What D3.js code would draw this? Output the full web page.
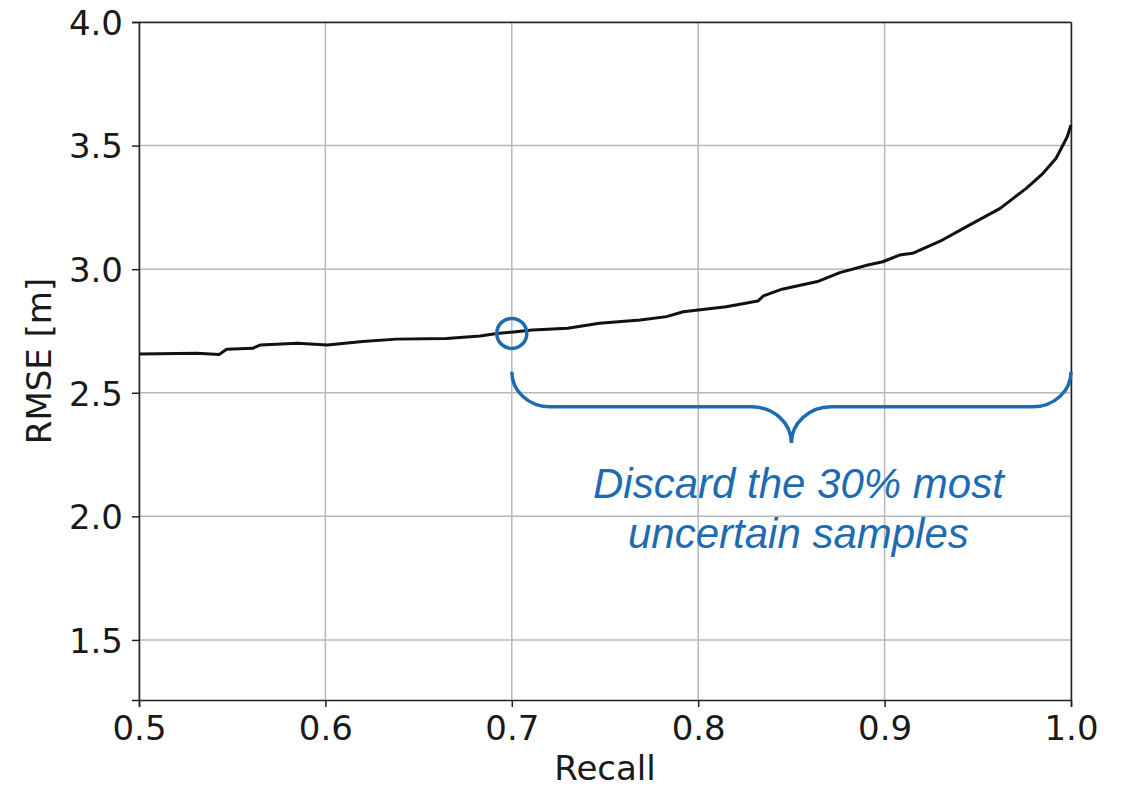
<!DOCTYPE html>
<html>
<head>
<meta charset="utf-8">
<script src="https://cdn.jsdelivr.net/npm/d3@7"></script>
<style>
  body { margin: 0; background: #fff; }
  .axis text { font-family: "DejaVu Sans", sans-serif; font-size: 34px; fill: #1a1a1a; }
  .axis path, .axis line { stroke: #222; stroke-width: 1.5; }
  .grid line { stroke: #b8b8b8; stroke-width: 1.5; }
  .axis-title { font-family: "DejaVu Sans", sans-serif; font-size: 34px; fill: #1a1a1a; }
  .note { font-family: "Liberation Sans", Arial, sans-serif; font-style: italic; font-size: 42px; fill: #1d6cb3; }
</style>
</head>
<body>
<div id="chart"></div>
<script>
// Recall / RMSE curve
const recall = [0.500, 0.531, 0.543, 0.547, 0.561, 0.565, 0.585, 0.601, 0.620, 0.638,
  0.665, 0.683, 0.692, 0.701, 0.711, 0.730, 0.747, 0.769, 0.783, 0.792, 0.815, 0.832,
  0.835, 0.845, 0.864, 0.876, 0.891, 0.899, 0.908, 0.915, 0.931, 0.944, 0.962, 0.976,
  0.985, 0.992, 0.998, 1.000];
const rmse = [2.657, 2.660, 2.655, 2.676, 2.680, 2.693, 2.700, 2.693, 2.707, 2.717,
  2.720, 2.730, 2.740, 2.746, 2.754, 2.761, 2.781, 2.794, 2.808, 2.828, 2.848, 2.871,
  2.892, 2.919, 2.950, 2.986, 3.017, 3.030, 3.057, 3.064, 3.118, 3.172, 3.246, 3.327,
  3.388, 3.449, 3.536, 3.583];

const xTicks = [0.5, 0.6, 0.7, 0.8, 0.9, 1.0];
const yTicks = [1.5, 2.0, 2.5, 3.0, 3.5, 4.0];

// Annotation: marked point, brace span and label
const markRecall = 0.7;
const markRmse = 2.74;
const braceSpan = [0.7, 1.0];
const braceLevels = { top: 2.585, mid: 2.443, tip: 2.297 };
const noteLines = ["Discard the 30% most", "uncertain samples"];
const noteLevels = [2.074, 1.872];

class RmseVis {
  constructor(_parentElement) {
    this.parentElement = _parentElement;
    this.data = recall.map((r, i) => ({ recall: r, rmse: rmse[i] }));
    this.initVis();
  }

  initVis() {
    let vis = this;

    vis.margin = { top: 22, right: 53, bottom: 88, left: 139 };
    vis.width = 1124 - vis.margin.left - vis.margin.right;
    vis.height = 788 - vis.margin.top - vis.margin.bottom;

    vis.svg = d3
      .select("#" + vis.parentElement)
      .append("svg")
      .attr("width", 1124)
      .attr("height", 788)
      .append("g")
      .attr("transform", "translate(" + vis.margin.left + "," + vis.margin.top + ")");

    vis.x = d3.scaleLinear().domain([0.5, 1.0]).range([0, vis.width]);
    vis.y = d3.scaleLinear().domain([1.257, 4.0]).range([vis.height, 0]);

    // Grid
    vis.svg.append("g").attr("class", "grid")
      .selectAll("line.gx").data(xTicks).enter().append("line")
      .attr("x1", d => vis.x(d)).attr("x2", d => vis.x(d))
      .attr("y1", 0).attr("y2", vis.height);
    vis.svg.append("g").attr("class", "grid")
      .selectAll("line.gy").data(yTicks).enter().append("line")
      .attr("x1", 0).attr("x2", vis.width)
      .attr("y1", d => vis.y(d)).attr("y2", d => vis.y(d));

    // Axes
    vis.svg.append("g")
      .attr("class", "axis")
      .attr("transform", "translate(0," + vis.height + ")")
      .call(d3.axisBottom(vis.x).tickValues(xTicks).tickFormat(d3.format(".1f")).tickSize(7).tickPadding(9));
    vis.svg.append("g")
      .attr("class", "axis")
      .call(d3.axisLeft(vis.y).tickValues(yTicks).tickFormat(d3.format(".1f")).tickSize(7).tickPadding(9))
      .selectAll("text").attr("dy", "0.36em");

    // Top and right spines
    vis.svg.append("g").attr("class", "axis")
      .call(d3.axisTop(vis.x).tickValues([]).tickSizeOuter(0));
    vis.svg.append("g").attr("class", "axis")
      .attr("transform", "translate(" + vis.width + ",0)")
      .call(d3.axisRight(vis.y).tickValues([]).tickSizeOuter(0));

    // Axis titles
    vis.svg.append("text")
      .attr("class", "axis-title")
      .attr("x", vis.width / 2)
      .attr("y", vis.height + 80)
      .attr("text-anchor", "middle")
      .text("Recall");
    vis.svg.append("text")
      .attr("class", "axis-title")
      .attr("transform", "translate(-88," + vis.height / 2 + ") rotate(-90)")
      .attr("text-anchor", "middle")
      .text("RMSE [m]");

    vis.updateVis();
  }

  updateVis() {
    let vis = this;

    let line = d3.line()
      .x(d => vis.x(d.recall))
      .y(d => vis.y(d.rmse));

    vis.svg.append("path")
      .datum(vis.data)
      .attr("fill", "none")
      .attr("stroke", "#111")
      .attr("stroke-width", 3)
      .attr("stroke-linejoin", "round")
      .attr("d", line);

    // Marked point
    vis.svg.append("circle")
      .attr("cx", vis.x(markRecall))
      .attr("cy", vis.y(markRmse))
      .attr("r", 15)
      .attr("fill", "none")
      .attr("stroke", "#1d6cb3")
      .attr("stroke-width", 3.5);

    // Curly brace
    let k = 0.5523;
    let xl = vis.x(braceSpan[0]), xr = vis.x(braceSpan[1]);
    let xm = (xl + xr) / 2;
    let yT = vis.y(braceLevels.top), yM = vis.y(braceLevels.mid), yP = vis.y(braceLevels.tip);
    let w = 38, w2 = 40, h = yM - yT, h2 = yP - yM;
    let p = d3.path();
    p.moveTo(xl, yT);
    p.bezierCurveTo(xl, yT + k * h, xl + w - k * w, yM, xl + w, yM);
    p.lineTo(xm - w2, yM);
    p.bezierCurveTo(xm - w2 + k * w2, yM, xm, yP - k * h2, xm, yP);
    p.bezierCurveTo(xm, yP - k * h2, xm + w2 - k * w2, yM, xm + w2, yM);
    p.lineTo(xr - w, yM);
    p.bezierCurveTo(xr - w + k * w, yM, xr, yT + k * h, xr, yT);
    vis.svg.append("path")
      .attr("d", p.toString())
      .attr("fill", "none")
      .attr("stroke", "#1d6cb3")
      .attr("stroke-width", 3.5);

    // Note text
    vis.svg.selectAll(".note")
      .data(noteLines)
      .enter()
      .append("text")
      .attr("class", "note")
      .attr("x", xm + 7)
      .attr("y", (d, i) => vis.y(noteLevels[i]))
      .attr("text-anchor", "middle")
      .text(d => d);
  }
}

new RmseVis("chart");
</script>
</body>
</html>
